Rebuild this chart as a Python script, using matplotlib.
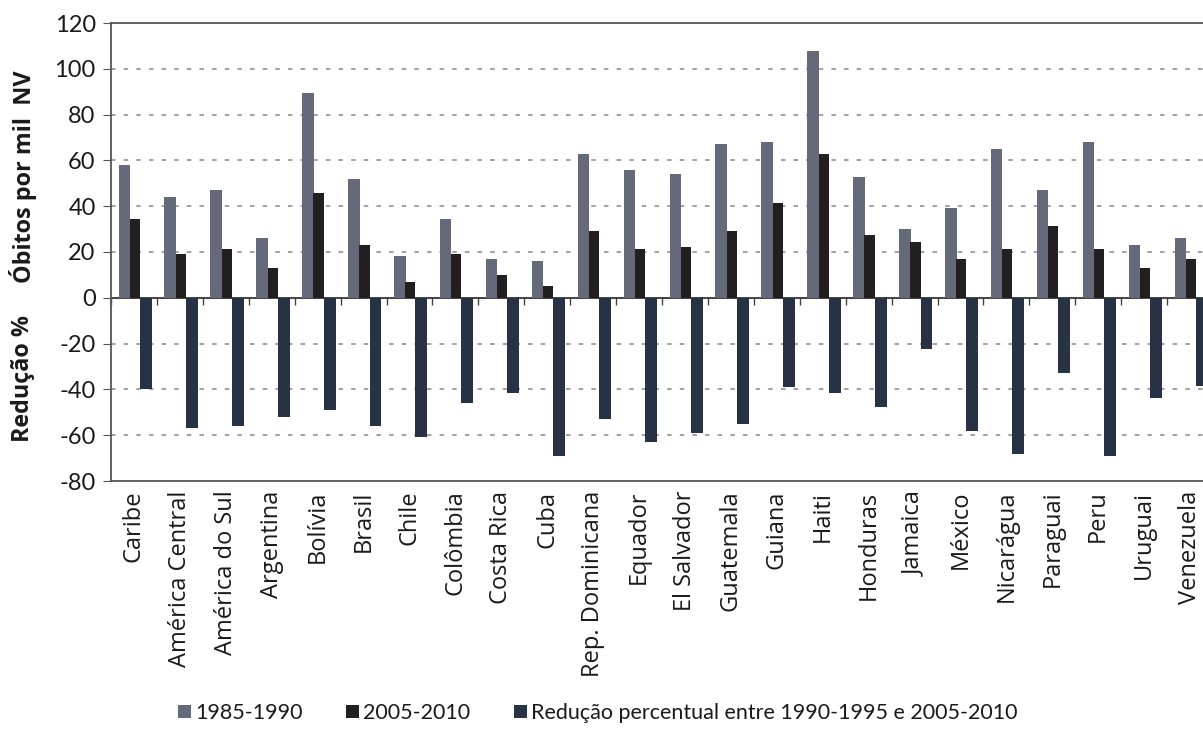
import numpy as np
import matplotlib.pyplot as plt

paises = ['Caribe', 'América Central', 'América do Sul', 'Argentina', 'Bolívia',
          'Brasil', 'Chile', 'Colômbia', 'Costa Rica', 'Cuba', 'Rep. Dominicana',
          'Equador', 'El Salvador', 'Guatemala', 'Guiana', 'Haiti', 'Honduras',
          'Jamaica', 'México', 'Nicarágua', 'Paraguai', 'Peru', 'Uruguai', 'Venezuela']

obitos_1985_1990 = [58, 44, 47, 26.3, 89.4, 51.7, 18.4, 34.6, 17.1, 16.2, 63, 55.6,
                    53.9, 67, 67.9, 107.7, 52.6, 30.2, 39.4, 64.8, 46.9, 67.9, 23.2, 26.3]
obitos_2005_2010 = [34.6, 19.3, 21.5, 13.1, 45.6, 23.2, 7, 19.3, 10.1, 5.3, 29.3, 21.5,
                    22.3, 29.3, 41.6, 63, 27.6, 24.5, 17.1, 21.5, 31.5, 21.5, 13.1, 17.1]
reducao = [-39.7, -56.8, -55.9, -52, -48.9, -56, -60.7, -45.8, -41.5, -69, -52.9, -62.9,
           -59, -55, -38.8, -41.5, -47.6, -22.2, -58, -68.2, -32.7, -69, -43.7, -38.4]

rotulos = ['1985-1990', '2005-2010', 'Redução percentual entre 1990-1995 e 2005-2010']
cores = ['#656a7a', '#231f20', '#283245']

fonte = ['Open Sans', 'DejaVu Sans']
fonte_num = ['Lato', 'DejaVu Sans']
cor_texto = '#1a1a1a'

fig = plt.figure(figsize=(12.03, 7.36), dpi=100)
ax = fig.add_axes([111 / 1203, 1 - 481 / 736, 1102 / 1203, 458 / 736])

x = np.arange(len(paises))
ax.bar(x - 0.21, obitos_1985_1990, 0.25, color=cores[0], label=rotulos[0], zorder=3)
ax.bar(x + 0.02, obitos_2005_2010, 0.22, color=cores[1], label=rotulos[1], zorder=3)
ax.bar(x + 0.26, reducao, 0.26, color=cores[2], label=rotulos[2], zorder=3)

ax.set_xlim(-0.5, len(paises) - 0.5)
ax.set_ylim(-80, 120)
ax.set_yticks(np.arange(-80, 121, 20))
ax.set_yticklabels([str(v) for v in range(-80, 121, 20)], family=fonte_num,
                   fontsize=17, color=cor_texto)
ax.tick_params(axis='y', direction='out', length=6, color='#555555', pad=5)

ax.set_xticks(x)
ax.set_xticklabels(paises, rotation=90, family=fonte, fontsize=17, color=cor_texto)
ax.tick_params(axis='x', length=0, pad=7)

# linhas de grade tracejadas
for v in [-60, -40, -20, 20, 40, 60, 80, 100]:
    ax.axhline(v, color='#9a9a9a', lw=1.3, ls=(0, (2.5, 4.5)), zorder=1)

for lado in ['top', 'left', 'bottom']:
    ax.spines[lado].set_color('#555555')
    ax.spines[lado].set_linewidth(1.3)
ax.spines['right'].set_visible(False)

# eixo do zero com marcas entre categorias
eixo_zero = ax.secondary_xaxis(0.4)
eixo_zero.set_xticks(np.arange(-0.5, len(paises), 1.0))
eixo_zero.set_xticklabels([])
eixo_zero.tick_params(direction='out', length=5, color='#444444', width=1)
eixo_zero.spines['bottom'].set_color('#222222')
eixo_zero.spines['bottom'].set_linewidth(1.2)
eixo_zero.spines['bottom'].set_zorder(4)

fig.text(0.019, 1 - 378 / 736, 'Redução %', rotation=90, ha='center', va='center',
         fontsize=16.8, fontweight='bold', family=fonte, color=cor_texto)
fig.text(0.019, 1 - 177 / 736, 'Óbitos por mil  NV', rotation=90, ha='center', va='center',
         fontsize=16.8, fontweight='bold', family=fonte, color=cor_texto)

leg = ax.legend(loc='center', bbox_to_anchor=(0.497, 1 - 713 / 736), bbox_transform=fig.transFigure,
                ncol=3, frameon=False, handlelength=0.6, handleheight=0.6, handletextpad=0.2,
                columnspacing=2.0, prop={'family': fonte_num, 'size': 15.5})
for t in leg.get_texts():
    t.set_color(cor_texto)

fig.savefig('out.png', dpi=100)
